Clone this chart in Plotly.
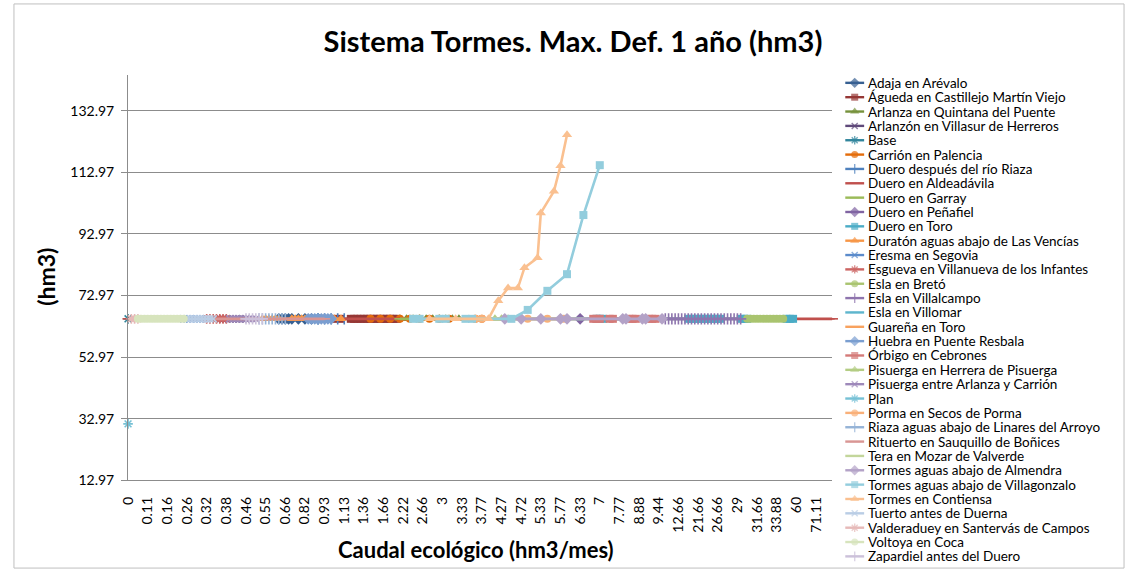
import plotly.graph_objects as go

W, H = 1129, 581     # reference frame; all positions are given as fractions of it
FONT = "Lato"

# ---------------- data ----------------
x_tick_labels = ["0", "0.11", "0.16", "0.26", "0.32", "0.38", "0.46", "0.55", "0.66",
                 "0.82", "0.93", "1.13", "1.36", "1.66", "2.22", "2.66", "3", "3.33",
                 "3.77", "4.27", "4.72", "5.33", "5.77", "6.33", "7", "7.77", "8.88",
                 "9.44", "12.66", "21.66", "26.66", "29", "31.66", "33.88", "60", "71.11"]
n_categories = 216          # category slots on the x axis (every 6th one is labelled)
label_step = 6

y_ticks = [12.97, 32.97, 52.97, 72.97, 92.97, 112.97, 132.97]

series_names = [
    "Adaja en Arévalo", "Águeda en Castillejo Martín Viejo", "Arlanza en Quintana del Puente",
    "Arlanzón en Villasur de Herreros", "Base", "Carrión en Palencia",
    "Duero después del río Riaza", "Duero en Aldeadávila", "Duero en Garray",
    "Duero en Peñafiel", "Duero en Toro", "Duratón aguas abajo de Las Vencías",
    "Eresma en Segovia", "Esgueva en Villanueva de los Infantes", "Esla en Bretó",
    "Esla en Villalcampo", "Esla en Villomar", "Guareña en Toro",
    "Huebra en Puente Resbala", "Órbigo en Cebrones", "Pisuerga en Herrera de Pisuerga",
    "Pisuerga entre Arlanza y Carrión", "Plan", "Porma en Secos de Porma",
    "Riaza aguas abajo de Linares del Arroyo", "Rituerto en Sauquillo de Boñices",
    "Tera en Mozar de Valverde", "Tormes aguas abajo de Almendra",
    "Tormes aguas abajo de Villagonzalo", "Tormes en Contiensa",
    "Tuerto antes de Duerna", "Valderaduey en Santervás de Campos",
    "Voltoya en Coca", "Zapardiel antes del Duero",
]

series_colors = [
    "#376092", "#953735", "#76923C", "#5F497A", "#31859C", "#E46C0A",
    "#4F81BD", "#C0504D", "#9BBB59", "#8064A2", "#4BACC6", "#F79646",
    "#5B8BCB", "#CC6462", "#A9C46F", "#8E75AE", "#5EB6CD", "#F8A25E",
    "#7A9ED0", "#D47A78", "#B4CD84", "#9E89BA", "#76C1D5", "#F9B079",
    "#95B3D7", "#D99694", "#C3D69B", "#B3A2C7", "#93CDDD", "#FAC090",
    "#B9CDE5", "#E6B9B8", "#D7E4BD", "#CCC1DA",
]

symbol_cycle = ["diamond", "square", "triangle-up", "x-thin-open", "asterisk-open",
                "circle", "cross-thin-open", "line-ew-open", "line-ew-open"]
symbol_size = {"diamond": 9, "square": 8, "triangle-up": 9, "x-thin-open": 7,
               "asterisk-open": 8, "circle": 8, "cross-thin-open": 8, "line-ew-open": 8}

flat_level = 65.4   # most nodes sit on the same deficit level

# (first slot, last slot, step) runs where each node plots at the flat level
flat_runs = {
    "Adaja en Arévalo": [(46, 50, 1), (52, 58, 2)],
    "Águeda en Castillejo Martín Viejo": [(59, 66, 2), (68, 82, 1)],
    "Arlanza en Quintana del Puente": [(83, 101, 2)],
    "Arlanzón en Villasur de Herreros": [(28, 36, 1)],
    "Base": [(0, 0, 1)],
    "Carrión en Palencia": [(74, 98, 3), (106, 108, 2)],
    "Duero después del río Riaza": [(58, 66, 2)],
    "Duero en Aldeadávila": [(0, 215, 1)],
    "Duero en Garray": [(83, 100, 1)],
    "Duero en Peñafiel": [(138, 138, 1)],
    "Duero en Toro": [(143, 145, 1), (171, 181, 1), (187, 189, 1), (201, 203, 1)],
    "Duratón aguas abajo de Las Vencías": [(41, 46, 1), (50, 55, 1), (59, 66, 2)],
    "Eresma en Segovia": [(17, 24, 1)],
    "Esgueva en Villanueva de los Infantes": [(24, 30, 1)],
    "Esla en Bretó": [(189, 200, 1)],
    "Esla en Villalcampo": [(164, 187, 1)],
    "Esla en Villomar": [(110, 160, 1)],
    "Guareña en Toro": [(90, 105, 1)],
    "Huebra en Puente Resbala": [(55, 62, 1)],
    "Órbigo en Cebrones": [(142, 144, 1), (147, 148, 1), (153, 155, 1), (159, 161, 1)],
    "Pisuerga en Herrera de Pisuerga": [(112, 116, 2)],
    "Pisuerga entre Arlanza y Carrión": [(31, 39, 1)],
    "Porma en Secos de Porma": [(106, 108, 2), (122, 122, 1), (128, 128, 1), (133, 133, 1)],
    "Riaza aguas abajo de Linares del Arroyo": [(40, 48, 1)],
    "Rituerto en Sauquillo de Boñices": [(20, 60, 1)],
    "Tera en Mozar de Valverde": [(100, 140, 1)],
    "Tormes aguas abajo de Almendra": [(115, 115, 1), (120, 132, 6), (134, 134, 1),
                                       (151, 152, 1), (157, 158, 1), (163, 163, 1)],
    "Tuerto antes de Duerna": [(18, 26, 1)],
    "Valderaduey en Santervás de Campos": [(1, 3, 1)],
    "Voltoya en Coca": [(3, 17, 1)],
    "Zapardiel antes del Duero": [(36, 41, 1)],
}

# nodes whose deficit departs from the flat level
plan_slots = [0]
plan_values = [31.3]

villagonzalo_slots = [87, 89, 95, 97, 103, 105, 117, 122, 128, 134, 139, 144]
villagonzalo_values = [65.4, 65.4, 65.4, 65.4, 65.4, 65.4, 65.4, 68.3, 74.5, 79.9, 99.1, 115.3]

contiensa_slots = [92, 100, 110, 113, 116, 119, 121, 125, 126, 130, 132, 134]
contiensa_values = [65.4, 65.4, 65.4, 71.3, 75.4, 75.4, 82.0, 85.2, 99.8, 106.8, 115.1, 125.2]

special = {
    "Plan": (plan_slots, plan_values),
    "Tormes aguas abajo de Villagonzalo": (villagonzalo_slots, villagonzalo_values),
    "Tormes en Contiensa": (contiensa_slots, contiensa_values),
}

# ---------------- layout geometry (px in the reference frame) ----------------
PL, PR, PT, PB = 120, 830, 76, 487
y_px_per_unit = (487 - 112.3) / 120.0
y_top = 132.97 + (112.3 - PT) / y_px_per_unit


def px_x(v):
    return v / W


def px_y(v):
    return 1 - v / H


fig = go.Figure()

for i, name in enumerate(series_names):
    if name in special:
        xs, ys = special[name]
    else:
        xs, ys = [], []
        for a, b, st in flat_runs[name]:
            for s in range(a, b + 1, st):
                xs.append(s)
                ys.append(flat_level)
    sym = symbol_cycle[i % 9]
    col = series_colors[i]
    open_sym = sym.endswith("open")
    fig.add_trace(go.Scatter(
        x=xs, y=ys, mode="lines+markers", name=name, showlegend=False,
        line=dict(color=col, width=2.6),
        marker=dict(symbol=sym, size=symbol_size[sym], color=col,
                    line=dict(color=col, width=1.6 if open_sym else 0)),
        cliponaxis=False, xaxis="x", yaxis="y",
    ))

# ---- hand-built legend on an overlay subplot measured in reference pixels ----
leg_y0, leg_dy = 84.0, 14.55
leg_x_line0, leg_x_line1 = 843, 862
leg_x_text = 864
for i, name in enumerate(series_names):
    yy = leg_y0 + i * leg_dy
    sym = symbol_cycle[i % 9]
    col = series_colors[i]
    open_sym = sym.endswith("open")
    fig.add_trace(go.Scatter(
        x=[leg_x_line0, (leg_x_line0 + leg_x_line1) / 2, leg_x_line1], y=[yy, yy, yy],
        mode="lines+markers", showlegend=False, hoverinfo="skip",
        line=dict(color=col, width=2.4),
        marker=dict(symbol=sym, size=[0, symbol_size[sym] - 1, 0], color=col,
                    line=dict(color=col, width=1.4 if open_sym else 0)),
        xaxis="x2", yaxis="y2", cliponaxis=False,
    ))
    fig.add_annotation(x=leg_x_text, y=yy, xref="x2", yref="y2", text=name,
                       showarrow=False, xanchor="left", yanchor="middle",
                       font=dict(family=FONT, size=13.5, color="#000000"))

fig.update_layout(
    autosize=True,
    margin=dict(l=0, r=0, t=0, b=0),
    paper_bgcolor="white", plot_bgcolor="rgba(0,0,0,0)",
    showlegend=False,
    font=dict(family=FONT, color="#000000"),
    title=dict(text="<b>Sistema Tormes. Max. Def. 1 año (hm3)</b>",
               x=573 / W, xanchor="center", y=px_y(42), yanchor="middle",
               font=dict(family=FONT, size=29, color="#000000")),
    xaxis=dict(domain=[px_x(PL), px_x(PR)], range=[0, n_categories - 1],
               tickmode="array",
               tickvals=[k * label_step for k in range(len(x_tick_labels))],
               ticktext=x_tick_labels, tickangle=-90,
               tickfont=dict(family=FONT, size=14, color="#000000"),
               showgrid=False, zeroline=False, showline=True,
               linecolor="#8C8C8C", linewidth=1, ticks="",
               ticklabelstandoff=10),
    yaxis=dict(domain=[px_y(PB), px_y(PT)], range=[12.97, y_top],
               tickmode="array", tickvals=y_ticks,
               ticktext=[f"{v:.2f}" for v in y_ticks],
               tickfont=dict(family=FONT, size=14, color="#000000"),
               showgrid=True, gridcolor="#8C8C8C", gridwidth=1,
               zeroline=False, showline=True, linecolor="#8C8C8C", linewidth=1,
               ticks="outside", ticklen=6, tickcolor="#8C8C8C",
               ticklabelstandoff=4),
    xaxis2=dict(domain=[0, 1], range=[0, W], visible=False, fixedrange=True),
    yaxis2=dict(domain=[0, 1], range=[H, 0], visible=False, fixedrange=True),
)

# axis titles
fig.add_annotation(x=px_x(471), y=px_y(557), xref="paper", yref="paper",
                   text="<b>Caudal ecológico (hm3/mes)</b>", showarrow=False,
                   xanchor="center", yanchor="middle",
                   font=dict(family=FONT, size=22, color="#000000"))
fig.add_annotation(x=px_x(37), y=px_y(281), xref="paper", yref="paper",
                   text="<b>(hm3)</b>", showarrow=False, textangle=-90,
                   xanchor="center", yanchor="middle",
                   font=dict(family=FONT, size=23, color="#000000"))

# chart-area border
fig.add_shape(type="rect", xref="paper", yref="paper",
              x0=px_x(5), x1=px_x(1124), y0=px_y(576), y1=px_y(4),
              line=dict(color="#BFBFBF", width=1), fillcolor="rgba(0,0,0,0)")

page_fix = (
    "var s=document.createElement('style');"
    "s.textContent='html,body{margin:0;padding:0;overflow:hidden;}';"
    "document.head.appendChild(s);"
    "window.dispatchEvent(new Event('resize'));"
)

fig.write_html("out.html", config={"displayModeBar": False, "responsive": True},
               default_width="100vw", default_height="100vh", post_script=page_fix)
